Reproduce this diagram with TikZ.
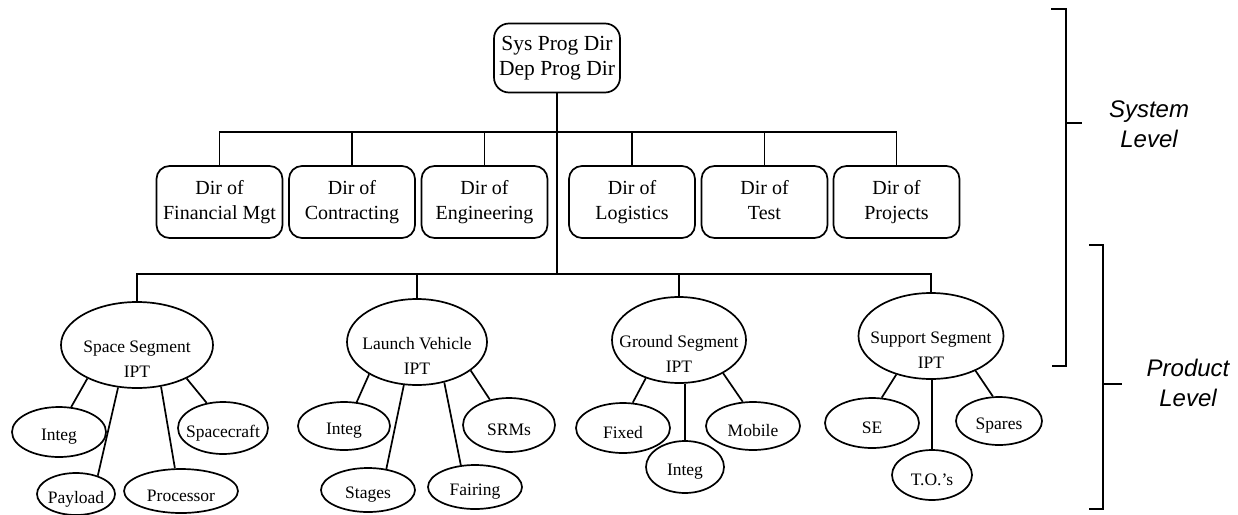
\documentclass[tikz,border=0pt]{standalone}
\usepackage{fontspec}
\setmainfont{Liberation Serif}
\newfontfamily\levelfont{Liberation Sans}
\usetikzlibrary{shapes.geometric}

\begin{document}
\begin{tikzpicture}[x=1pt,y=-1pt,line width=1.7pt,
  dirbox/.style={draw,rectangle,rounded corners=13pt,align=center,inner sep=0pt,
    minimum width=126pt,minimum height=72pt,font=\fontsize{20}{25}\selectfont},
  topbox/.style={dirbox,minimum height=69pt,rounded corners=15pt,font=\fontsize{21.5}{25}\selectfont},
  ipt/.style={draw,ellipse,inner sep=0pt,minimum height=86pt},
  sub/.style={draw,ellipse,inner sep=0pt},
  ovaltext/.style={align=center,inner sep=0pt,font=\fontsize{17.5}{25}\selectfont},
  ipttext/.style={ovaltext,yshift=-14pt},
  subtext/.style={ovaltext,yshift=-5pt},
  levtext/.style={align=center,font=\levelfont\itshape\fontsize{24}{30}\selectfont}]
\useasboundingbox (0,0) rectangle (1238,514);
\coordinate (bus1) at (0,132);
\coordinate (bus2) at (0,274);

\node[topbox] (sys) at (557,58) {Sys Prog Dir\\Dep Prog Dir};

\node[dirbox] (fin) at (219.5,202) {Dir of\\Financial Mgt};
\node[dirbox] (con) at (352,202) {Dir of\\Contracting};
\node[dirbox] (eng) at (484.5,202) {Dir of\\Engineering};
\node[dirbox] (log) at (632,202) {Dir of\\Logistics};
\node[dirbox] (tst) at (764.5,202) {Dir of\\Test\vphantom{g}};
\node[dirbox] (prj) at (896.5,202) {Dir of\\Projects};

\node[ipt,minimum width=152pt,label={[ipttext]center:Space Segment\\IPT}] (ss) at (137,345) {};
\node[ipt,minimum width=140pt,label={[ipttext]center:Launch Vehicle\\IPT}] (lv) at (417,342) {};
\node[ipt,minimum width=134pt,label={[ipttext]center:Ground Segment\\IPT}] (gs) at (679,340) {};
\node[ipt,minimum width=145pt,label={[ipttext]center:Support Segment\\IPT}] (sp) at (931,336) {};

\node[sub,minimum width=94pt,minimum height=50pt,label={[subtext]center:Integ}] (si) at (59,432) {};
\node[sub,minimum width=78pt,minimum height=42pt,label={[subtext]center:Payload}] (spl) at (76,494) {};
\node[sub,minimum width=114pt,minimum height=44pt,label={[subtext]center:Processor}] (spr) at (181,491) {};
\node[sub,minimum width=90pt,minimum height=52pt,label={[subtext]center:Spacecraft}] (ssc) at (223,428) {};

\node[sub,minimum width=92pt,minimum height=48pt,label={[subtext]center:Integ}] (li) at (344,426) {};
\node[sub,minimum width=94pt,minimum height=44pt,label={[subtext]center:Stages}] (lst) at (368,490) {};
\node[sub,minimum width=94pt,minimum height=44pt,label={[subtext]center:Fairing}] (lfa) at (475,487) {};
\node[sub,minimum width=92pt,minimum height=54pt,label={[subtext]center:SRMs}] (lsr) at (509,425) {};

\node[sub,minimum width=94pt,minimum height=50pt,label={[subtext]center:Fixed}] (gf) at (623,428) {};
\node[sub,minimum width=78pt,minimum height=52pt,label={[subtext]center:Integ}] (gi) at (685,467) {};
\node[sub,minimum width=94pt,minimum height=48pt,label={[subtext]center:Mobile}] (gm) at (753,426) {};

\node[sub,minimum width=94pt,minimum height=50pt,label={[subtext]center:SE}] (pse) at (872,423) {};
\node[sub,minimum width=80pt,minimum height=50pt,label={[subtext]center:T.O.'s}] (pto) at (932,475) {};
\node[sub,minimum width=86pt,minimum height=48pt,label={[subtext]center:Spares}] (psp) at (999,421) {};

\draw (sys.south) -- (sys.south |- bus2);
\draw (fin.north) |- (prj.north |- bus1) -- (prj.north);
\foreach \n in {con,eng,log,tst} \draw (\n.north) -- (\n.north |- bus1);
\draw (ss.north) |- (sp.north |- bus2) -- (sp.north);
\foreach \n in {lv,gs} \draw (\n.north) -- (\n.north |- bus2);

\draw (ss.214) -- (si.64);
\draw (ss.246) -- (spl.40);
\draw (ss.300) -- (spr.105);
\draw (ss.326) -- (ssc.123);

\draw (lv.214) -- (li.62);
\draw (lv.253) -- (lst.49);
\draw (lv.304) -- (lfa.123);
\draw (lv.332) -- (lsr.127);

\draw (gs.229) -- (gf.69);
\draw (gi.north) -- (gi.north |- gs.south);
\draw (gs.323) -- (gm.113);

\draw (sp.228) -- (pse.69);
\draw (pto.north) -- (pto.north |- sp.south);
\draw (sp.322) -- (psp.104);

\draw (1051,9) -- (1066,9) -- (1066,366) -- (1052,366);
\draw (1066,123) -- (1082,123);
\node[levtext] (syslev) at (1149,124) {System\\Level};

\draw (1089,245) -- (1103,245) -- (1103,509) -- (1089,509);
\draw (1103,384) -- (1122,384);
\node[levtext] (prodlev) at (1188,383) {Product\\Level};
\end{tikzpicture}
\end{document}
